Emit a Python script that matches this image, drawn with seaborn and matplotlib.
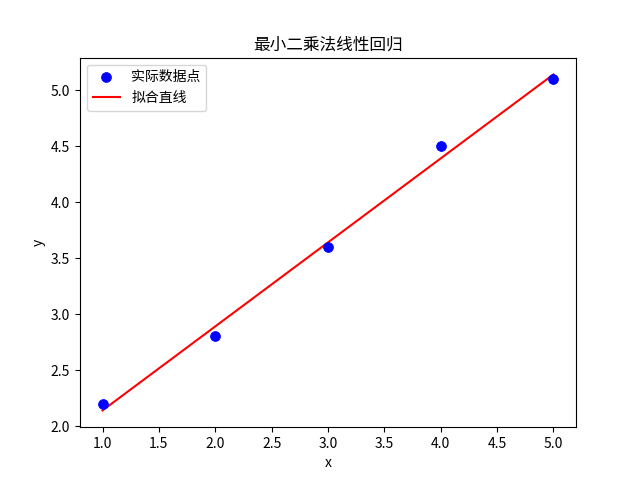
import matplotlib
matplotlib.use("Agg")
import matplotlib.pyplot as plt
import seaborn as sns
import numpy as np

x = [1, 2, 3, 4, 5]
y = [2.2, 2.8, 3.6, 4.5, 5.1]

plt.rcParams['font.family'] = ['Noto Sans CJK SC', 'DejaVu Sans']
plt.rcParams['axes.unicode_minus'] = False

k, b = np.polyfit(x, y, 1)
yfit = [k * xi + b for xi in x]

fig, ax = plt.subplots(figsize=(6.4, 4.8), dpi=100)
sns.scatterplot(x=x, y=y, color='blue', s=50, edgecolor='blue', label='实际数据点', ax=ax, zorder=3)
sns.lineplot(x=x, y=yfit, color='red', label='拟合直线', ax=ax)
ax.set_title('最小二乘法线性回归')
ax.set_xlabel('x')
ax.set_ylabel('y')
ax.legend(loc='upper left')
fig.savefig('out.png')
